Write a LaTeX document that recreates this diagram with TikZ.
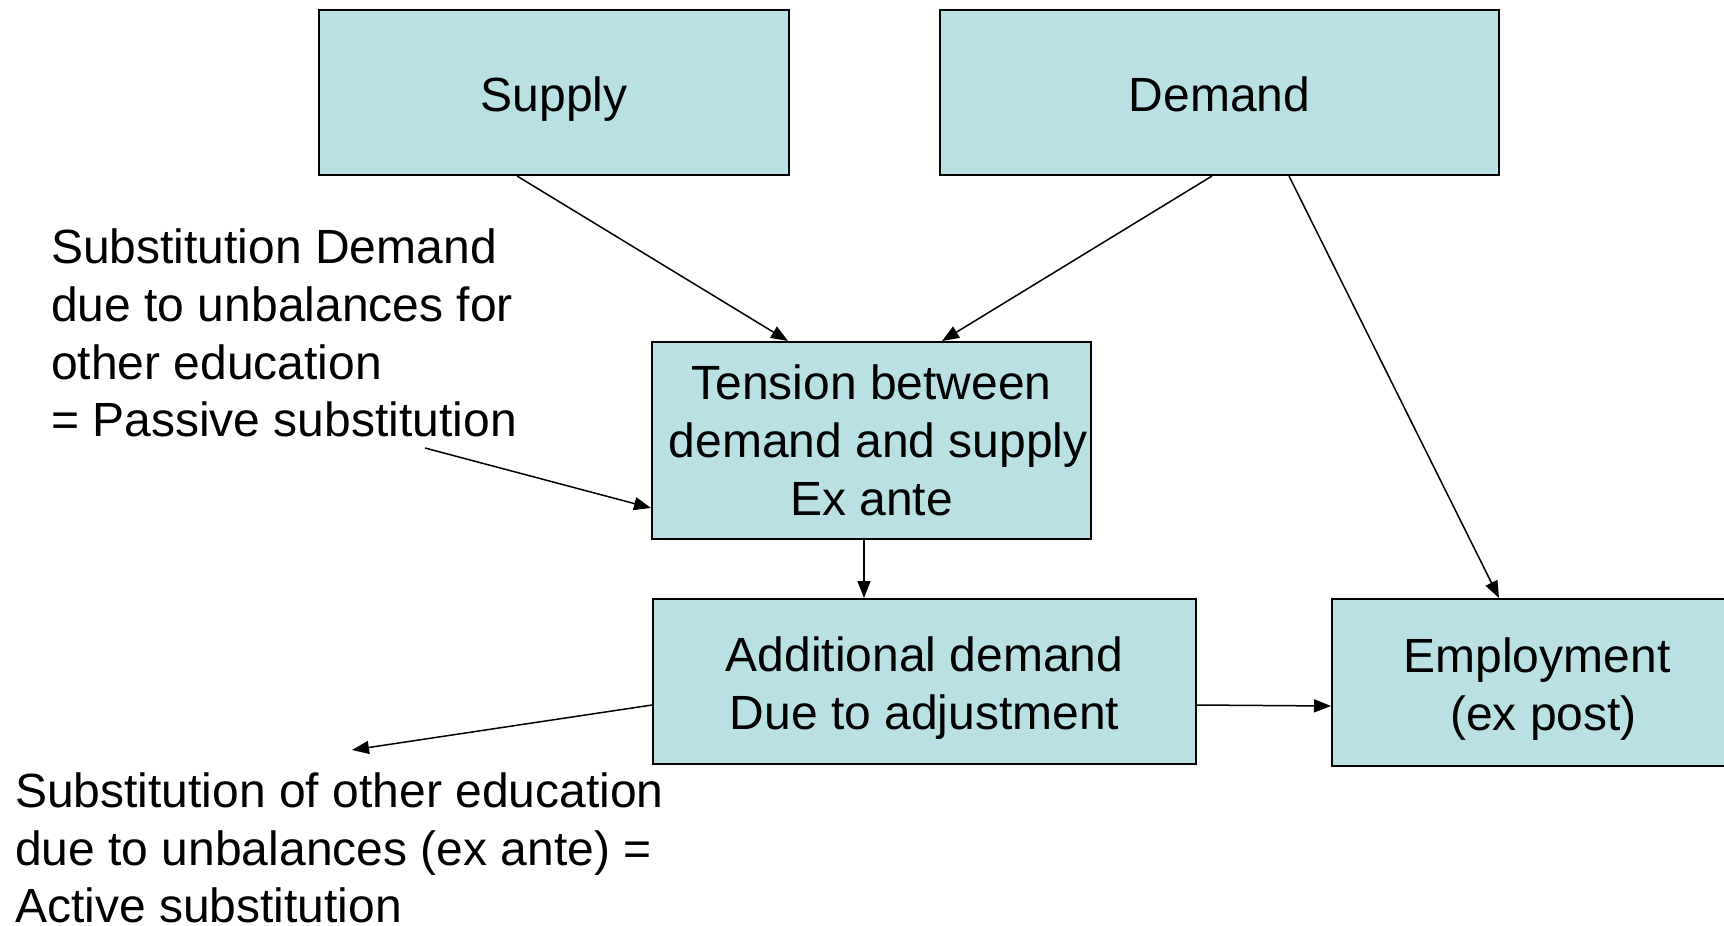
\documentclass[tikz,border=0pt]{standalone}
\usepackage{fontspec}
\setmainfont{Liberation Sans}
\usetikzlibrary{arrows.meta}
\definecolor{boxfill}{RGB}{185,224,227}
\begin{document}
\begin{tikzpicture}[x=1pt,y=-1pt,
  every node/.style={font=\fontsize{48}{57.7}\selectfont, inner sep=0pt},
  flowbox/.style={draw=black, line width=2pt, fill=boxfill},
  boxtext/.style={align=center},
  note/.style={align=left, anchor=west},
  conn/.style={draw=black, line width=1.5pt, -{Triangle[length=17pt,width=13pt]}}]
\useasboundingbox (0,0) rectangle (1724,926);
\node[flowbox, minimum width=470pt, minimum height=165pt] (sup) at (554,92.5) {};
\node[flowbox, minimum width=559pt, minimum height=165pt] (dem) at (1219.5,92.5) {};
\node[flowbox, minimum width=439pt, minimum height=197pt] (ten) at (871.5,440.5) {};
\node[flowbox, minimum width=543pt, minimum height=165pt] (add) at (924.5,681.5) {};
\node[flowbox, minimum width=410pt, minimum height=167pt] (emp) at (1537,682.5) {};
\node[boxtext] (supt) at ([yshift=-6.6pt]sup.center) {Supply};
\node[boxtext] (demt) at ([yshift=-2.2pt]dem.center) {Demand};
\node[boxtext] (tent) at (ten.center) {Tension between\\\hspace*{13.3pt}demand and supply\\Ex ante};
\node[boxtext] (addt) at ([yshift=-6.6pt]add.center) {Additional demand\\Due to adjustment};
\node[boxtext] (empt) at ([yshift=-6.6pt]emp.center) {Employment\\\hspace*{13.3pt}(ex post)};
\node[note] (pas) at (51,333) {Substitution Demand\\due to unbalances for\\other education\\= Passive substitution};
\node[note] (act) at (15,848) {Substitution of other education\\due to unbalances (ex ante) =\\Active substitution};
\coordinate (pasend) at (425,448);
\coordinate (actend) at (352,750);
\draw[conn] ([xshift=-37pt]sup.south) -- ([xshift=-83.5pt]ten.north);
\draw[conn] ([xshift=-7.5pt]dem.south) -- ([xshift=70.5pt]ten.north);
\draw[conn] ([xshift=69.5pt]dem.south) -- ([xshift=-38pt]emp.north);
\draw[conn] ([xshift=-7.5pt]ten.south) -- ([xshift=-60.5pt]add.north);
\draw[conn] ([yshift=-23.5pt]add.east) -- ([yshift=-23.5pt]emp.west);
\draw[conn] (pasend) -- ([yshift=-67.5pt]ten.west);
\draw[conn] ([yshift=-23.5pt]add.west) -- (actend);
\end{tikzpicture}
\end{document}
